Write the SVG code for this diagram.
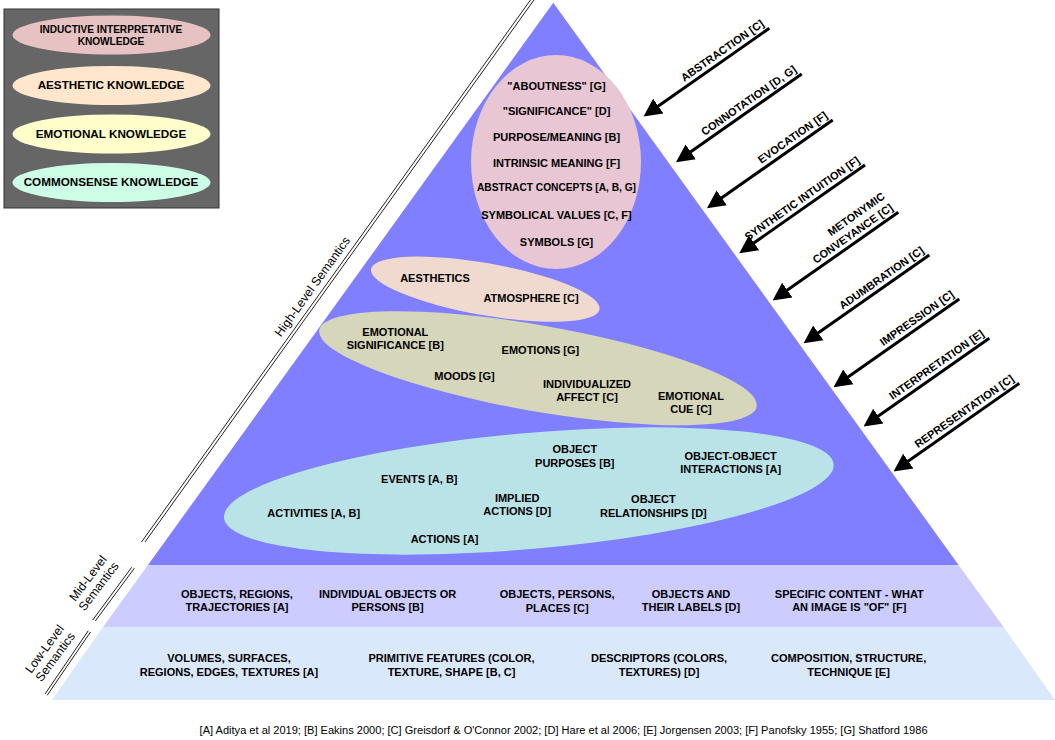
<svg xmlns="http://www.w3.org/2000/svg" width="1055" height="740" viewBox="0 0 1055 740">
<style>
text{font-family:"Liberation Sans",Arial,Helvetica,sans-serif;fill:#000}
.b{font-weight:bold;font-size:11px;text-anchor:middle}
.lg{font-weight:bold;font-size:11.7px;text-anchor:middle}
.lgs{font-weight:bold;font-size:10.1px;text-anchor:middle}
.al{font-weight:bold;font-size:11px;text-anchor:end}
.side{font-size:12.3px;text-anchor:middle}
.foot{font-size:11.05px;text-anchor:middle}
.dl{stroke:#222;stroke-width:1;fill:none}
.arr{stroke:#000;stroke-width:3;fill:none;marker-end:url(#ah)}
</style>
<defs>
<marker id="ah" markerUnits="userSpaceOnUse" markerWidth="18" markerHeight="20" viewBox="0 0 18 20" refX="6" refY="10" orient="auto">
<path d="M0,1 L18,10 L0,19 Z" fill="#000"/>
</marker>
</defs>
<rect width="1055" height="740" fill="#fff"/>

<g id="legend">
<rect x="4" y="9" width="215" height="199" fill="#666666" stroke="#333" stroke-width="1"/>
<g id="legend-inductive"><ellipse cx="111.5" cy="35" rx="99" ry="19.5" fill="#E6C2C3"/>
<text class="lgs" x="111" y="33">INDUCTIVE INTERPRETATIVE</text><text class="lgs" x="111" y="45.4">KNOWLEDGE</text></g>
<g id="legend-aesthetic"><ellipse cx="111.5" cy="85.5" rx="99" ry="19.5" fill="#FFE6CC"/>
<text class="lg" x="111" y="89.3">AESTHETIC KNOWLEDGE</text></g>
<g id="legend-emotional"><ellipse cx="111.5" cy="134" rx="99" ry="19.5" fill="#FFFFCC"/>
<text class="lg" x="111" y="137.6">EMOTIONAL KNOWLEDGE</text></g>
<g id="legend-commonsense"><ellipse cx="111.5" cy="182.5" rx="99" ry="19.5" fill="#CCFFE6"/>
<text class="lg" x="111" y="186">COMMONSENSE KNOWLEDGE</text></g>
</g>

<g id="band-low">
<polygon points="103,627 1003.6,627 1055,700 52,700" fill="#DAE8FC"/>
<text class="b" x="229" y="662.3">VOLUMES, SURFACES,</text><text class="b" x="229" y="675.7">REGIONS, EDGES, TEXTURES [A]</text>
<text class="b" x="451.5" y="662.3">PRIMITIVE FEATURES (COLOR,</text><text class="b" x="451.5" y="675.7">TEXTURE, SHAPE [B, C]</text>
<text class="b" x="659" y="662.3">DESCRIPTORS (COLORS,</text><text class="b" x="659" y="675.7">TEXTURES) [D]</text>
<text class="b" x="848.6" y="662.3">COMPOSITION, STRUCTURE,</text><text class="b" x="848.6" y="675.7">TECHNIQUE [E]</text>
</g>

<g id="band-mid">
<polygon points="148,565 958.6,565 1003.6,627 103,627" fill="#CCCCFF"/>
<text class="b" x="237" y="597.5">OBJECTS, REGIONS,</text><text class="b" x="237" y="611.3">TRAJECTORIES [A]</text>
<text class="b" x="387.6" y="597.5">INDIVIDUAL OBJECTS OR</text><text class="b" x="387.6" y="611.3">PERSONS [B]</text>
<text class="b" x="557.2" y="598.3">OBJECTS, PERSONS,</text><text class="b" x="557.2" y="612.3">PLACES [C]</text>
<text class="b" x="691" y="597.5">OBJECTS AND</text><text class="b" x="691" y="611.3">THEIR LABELS [D]</text>
<text class="b" x="849.3" y="597.5">SPECIFIC CONTENT - WHAT</text><text class="b" x="849.3" y="611.3">AN IMAGE IS "OF" [F]</text>
</g>

<g id="pyramid-high">
<polygon points="553.3,2.7 958.6,565 148,565" fill="#7F7FFF"/>
</g>

<g id="inductive">
<ellipse cx="556" cy="162" rx="85" ry="107" fill="#E8C6D4"/>
<text class="b" x="556.5" y="90">"ABOUTNESS" [G]</text>
<text class="b" x="556.5" y="114.7">"SIGNIFICANCE" [D]</text>
<text class="b" x="556.5" y="141.3">PURPOSE/MEANING [B]</text>
<text class="b" x="556.5" y="167.3">INTRINSIC MEANING [F]</text>
<text class="b" x="556.5" y="190.9" style="font-size:10.2px">ABSTRACT CONCEPTS [A, B, G]</text>
<text class="b" x="556.5" y="219">SYMBOLICAL VALUES [C, F]</text>
<text class="b" x="556.5" y="245.7">SYMBOLS [G]</text>
</g>

<g id="aesthetic">
<ellipse cx="0" cy="0" rx="116" ry="26" transform="translate(485.3,289.2) rotate(10)" fill="#F0DACF"/>
<text class="b" x="435" y="282.3">AESTHETICS</text>
<text class="b" x="531" y="302.3">ATMOSPHERE [C]</text>
</g>

<g id="emotional">
<ellipse cx="0" cy="0" rx="222" ry="43" transform="translate(538,368.3) rotate(9.9)" fill="#D6D6BA"/>
<text class="b" x="395.3" y="335.7">EMOTIONAL</text><text class="b" x="395.3" y="349">SIGNIFICANCE [B]</text>
<text class="b" x="540.4" y="354">EMOTIONS [G]</text>
<text class="b" x="464.5" y="379.7">MOODS [G]</text>
<text class="b" x="587" y="388">INDIVIDUALIZED</text><text class="b" x="587" y="401.3">AFFECT [C]</text>
<text class="b" x="691" y="399.7">EMOTIONAL</text><text class="b" x="691" y="413">CUE [C]</text>
</g>

<g id="commonsense">
<ellipse cx="0" cy="0" rx="306" ry="58" transform="translate(528.8,491) rotate(-5)" fill="#BAE3E8"/>
<text class="b" x="574.8" y="453.3">OBJECT</text><text class="b" x="574.8" y="466.7">PURPOSES [B]</text>
<text class="b" x="730.7" y="459.7">OBJECT-OBJECT</text><text class="b" x="730.7" y="473">INTERACTIONS [A]</text>
<text class="b" x="419.3" y="483.3">EVENTS [A, B]</text>
<text class="b" x="517.2" y="501.7">IMPLIED</text><text class="b" x="517.2" y="514.7">ACTIONS [D]</text>
<text class="b" x="653.4" y="503.3">OBJECT</text><text class="b" x="653.4" y="516.7">RELATIONSHIPS [D]</text>
<text class="b" x="313.8" y="516.7">ACTIVITIES [A, B]</text>
<text class="b" x="444.6" y="542.7">ACTIONS [A]</text>
</g>

<g id="level-labels">
<line class="dl" x1="531.9" y1="-2" x2="141.5" y2="542"/>
<line class="dl" x1="535.4" y1="-2" x2="145" y2="542"/>
<text class="side" transform="translate(312.5,286.7) rotate(-54.3)" y="4">High-Level Semantics</text>
<line class="dl" x1="131.7" y1="567.3" x2="92.7" y2="620"/>
<line class="dl" x1="134.3" y1="568.3" x2="95.3" y2="621"/>
<text class="side" transform="translate(93.4,582.4) rotate(-52.8)"><tspan x="0" y="-2.7">Mid-Level</tspan><tspan x="0" y="10.7">Semantics</tspan></text>
<line class="dl" x1="88.3" y1="630.7" x2="45" y2="694"/>
<line class="dl" x1="90.5" y1="632" x2="47.2" y2="695.3"/>
<text class="side" transform="translate(50,653) rotate(-53.5)"><tspan x="0" y="-2.7">Low-Level</tspan><tspan x="0" y="10.7">Semantics</tspan></text>
</g>

<g id="connectors">
<line class="arr" x1="769.3" y1="28.3" x2="653.4" y2="109.6"/>
<line class="arr" x1="801.7" y1="74" x2="685.8" y2="155.3"/>
<line class="arr" x1="832.7" y1="120" x2="716.8" y2="201.3"/>
<line class="arr" x1="865" y1="165" x2="749.1" y2="246.3"/>
<line class="arr" x1="898.3" y1="212.3" x2="782.4" y2="293.6"/>
<line class="arr" x1="929.3" y1="255" x2="813.4" y2="336.3"/>
<line class="arr" x1="959.3" y1="299" x2="843.4" y2="380.3"/>
<line class="arr" x1="989.3" y1="338.3" x2="873.4" y2="419.6"/>
<line class="arr" x1="1019.3" y1="383.3" x2="903.4" y2="464.6"/>
</g>

<g id="connector-labels">
<text class="al" transform="translate(769.3,28.3) rotate(-35.06)" x="-2" y="-5">ABSTRACTION [C]</text>
<text class="al" transform="translate(801.7,74) rotate(-35.06)" x="-2" y="-5">CONNOTATION [D, G]</text>
<text class="al" transform="translate(832.7,120) rotate(-35.06)" x="-2" y="-5">EVOCATION [F]</text>
<text class="al" transform="translate(865,165) rotate(-35.06)" x="-2" y="-5">SYNTHETIC INTUITION [F]</text>
<text class="al" transform="translate(898.3,212.3) rotate(-35.06)"><tspan x="-2" y="-19">METONYMIC</tspan><tspan x="-2" y="-5">CONVEYANCE [C]</tspan></text>
<text class="al" transform="translate(929.3,255) rotate(-35.06)" x="-2" y="-5">ADUMBRATION [C]</text>
<text class="al" transform="translate(959.3,299) rotate(-35.06)" x="-2" y="-5">IMPRESSION [C]</text>
<text class="al" transform="translate(989.3,338.3) rotate(-35.06)" x="-2" y="-5">INTERPRETATION [E]</text>
<text class="al" transform="translate(1019.3,383.3) rotate(-35.06)" x="-2" y="-5">REPRESENTATION [C]</text>
</g>

<g id="footer">
<text class="foot" x="563.6" y="734">[A] Aditya et al 2019; [B] Eakins 2000; [C] Greisdorf &amp; O'Connor 2002; [D] Hare et al 2006; [E] Jorgensen 2003; [F] Panofsky 1955; [G] Shatford 1986</text>
</g>
</svg>
